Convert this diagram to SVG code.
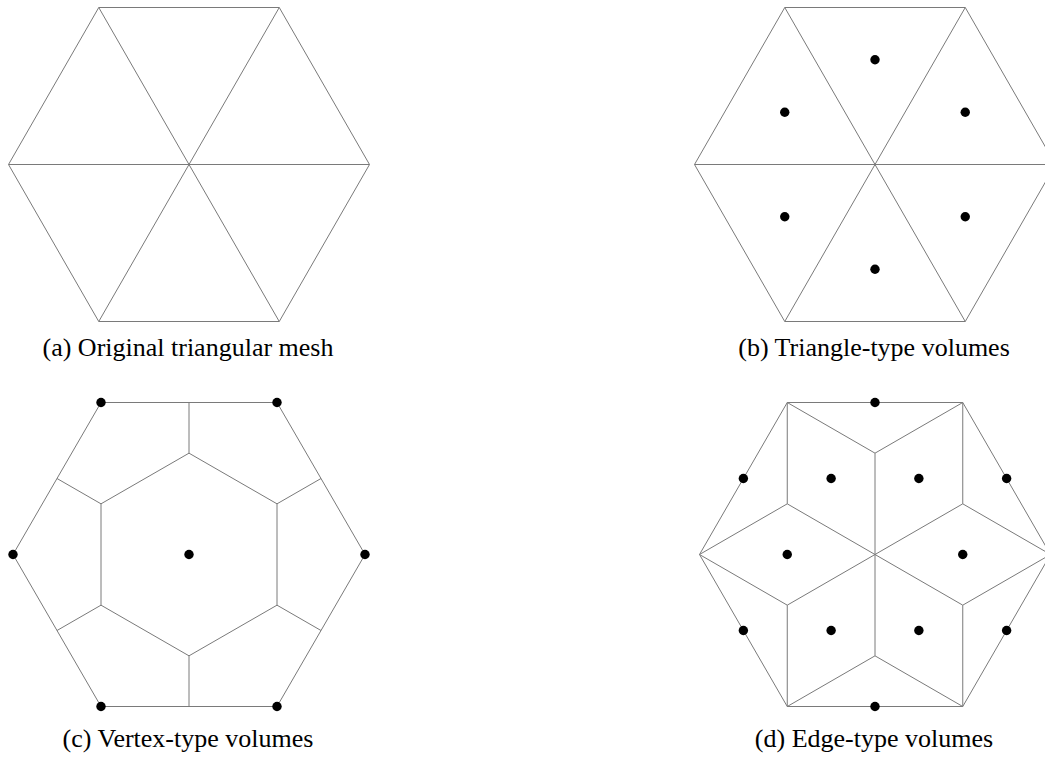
<svg xmlns="http://www.w3.org/2000/svg" width="1045" height="758" viewBox="0 0 1045 758">
<style>
.e{fill:none;stroke:#7a7a7a;stroke-width:1}
.d{fill:#000}
.cap{font-family:"Liberation Serif","Times New Roman",serif;font-size:26px;fill:#000;text-anchor:middle}
</style>
<rect width="1045" height="758" fill="#fff"/>
<g id="panel-a">
<polygon class="e" points="369.5,164.5 279.25,7.5 98.75,7.5 8.5,164.5 98.75,321.5 279.25,321.5"/>
<path class="e" d="M8.5,164.5 L369.5,164.5 M98.75,7.5 L279.25,321.5 M279.25,7.5 L98.75,321.5"/>
<text class="cap" x="188" y="356">(a) Original triangular mesh</text>
</g>
<g id="panel-b">
<polygon class="e" points="1055.5,164.5 965.25,7.5 784.75,7.5 694.5,164.5 784.75,321.5 965.25,321.5"/>
<path class="e" d="M694.5,164.5 L1055.5,164.5 M784.75,7.5 L965.25,321.5 M965.25,7.5 L784.75,321.5"/>
<g class="d">
<circle cx="875" cy="59.8" r="4.7"/>
<circle cx="784.75" cy="112.2" r="4.7"/>
<circle cx="965.25" cy="112.2" r="4.7"/>
<circle cx="784.75" cy="216.8" r="4.7"/>
<circle cx="965.25" cy="216.8" r="4.7"/>
<circle cx="875" cy="269.2" r="4.7"/>
</g>
<text class="cap" x="874" y="356">(b) Triangle-type volumes</text>
</g>
<g id="panel-c">
<polygon class="e" points="365,554.5 277,402.5 101,402.5 13,554.5 101,706.5 277,706.5"/>
<polygon class="e" points="189,453.17 277,503.83 277,605.17 189,655.83 101,605.17 101,503.83"/>
<path class="e" d="M189,402.5 L189,453.17 M57,478.5 L101,503.83 M321,478.5 L277,503.83 M57,630.5 L101,605.17 M321,630.5 L277,605.17 M189,706.5 L189,655.83"/>
<g class="d">
<circle cx="365" cy="554.5" r="4.7"/>
<circle cx="277" cy="402.5" r="4.7"/>
<circle cx="101" cy="402.5" r="4.7"/>
<circle cx="13" cy="554.5" r="4.7"/>
<circle cx="101" cy="706.5" r="4.7"/>
<circle cx="277" cy="706.5" r="4.7"/>
<circle cx="189" cy="554.5" r="4.7"/>
</g>
<text class="cap" x="188" y="747">(c) Vertex-type volumes</text>
</g>
<g id="panel-d">
<polygon class="e" points="1050.5,554.5 962.75,402.5 787.25,402.5 699.5,554.5 787.25,706.5 962.75,706.5"/>
<path class="e" d="M875,453.17 L875,554.5 M875,453.17 L787.25,402.5 M875,453.17 L962.75,402.5
M787.25,503.83 L875,554.5 M787.25,503.83 L787.25,402.5 M787.25,503.83 L699.5,554.5
M962.75,503.83 L875,554.5 M962.75,503.83 L962.75,402.5 M962.75,503.83 L1050.5,554.5
M787.25,605.17 L875,554.5 M787.25,605.17 L699.5,554.5 M787.25,605.17 L787.25,706.5
M962.75,605.17 L875,554.5 M962.75,605.17 L1050.5,554.5 M962.75,605.17 L962.75,706.5
M875,655.83 L875,554.5 M875,655.83 L787.25,706.5 M875,655.83 L962.75,706.5"/>
<g class="d">
<circle cx="875" cy="402.5" r="4.7"/>
<circle cx="743.375" cy="478.5" r="4.7"/>
<circle cx="1006.625" cy="478.5" r="4.7"/>
<circle cx="743.375" cy="630.5" r="4.7"/>
<circle cx="1006.625" cy="630.5" r="4.7"/>
<circle cx="875" cy="706.5" r="4.7"/>
<circle cx="962.75" cy="554.5" r="4.7"/>
<circle cx="918.875" cy="478.5" r="4.7"/>
<circle cx="831.125" cy="478.5" r="4.7"/>
<circle cx="787.25" cy="554.5" r="4.7"/>
<circle cx="831.125" cy="630.5" r="4.7"/>
<circle cx="918.875" cy="630.5" r="4.7"/>
</g>
<text class="cap" x="874" y="747">(d) Edge-type volumes</text>
</g>
</svg>
